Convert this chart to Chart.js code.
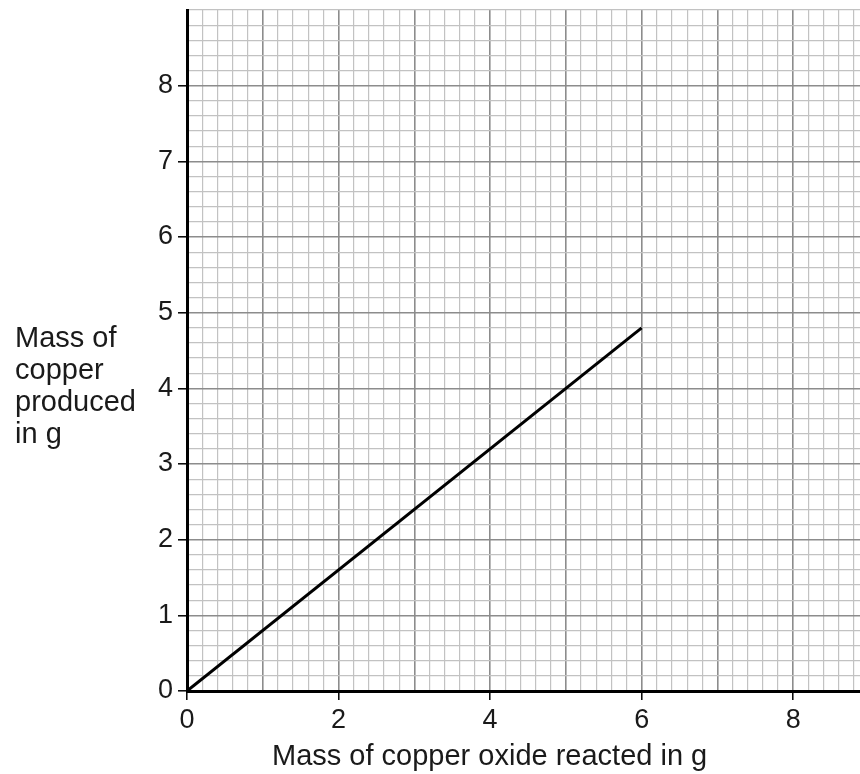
<!DOCTYPE html>
<html>
<head>
<meta charset="utf-8">
<script src="https://cdn.jsdelivr.net/npm/chart.js@4.4.1/dist/chart.umd.min.js"></script>
<style>
  html, body { margin: 0; padding: 0; background: #fff; overflow: hidden; }
  #wrap { position: relative; width: 869px; height: 774px; }
</style>
</head>
<body>
<div id="wrap"><canvas id="chart"></canvas></div>
<script>
// Data
const xValues = [0, 6];
const yValues = [0, 4.8];
const xTickLabels = [0, 2, 4, 6, 8];
const yTickLabels = [0, 1, 2, 3, 4, 5, 6, 7, 8];
const xTitle = 'Mass of copper oxide reacted in g';
const yTitleLines = ['Mass of', 'copper', 'produced', 'in g'];

const FONT = "'Liberation Sans', Arial, sans-serif";

function near(v, list) {
    return list.some(t => Math.abs(v - t) < 1e-6);
}
function isMajor(v) {
    return Math.abs(v - Math.round(v)) < 1e-6;
}

// Axis titles drawn as text at fixed spots
const titles = {
    id: 'titles',
    afterDraw(chart) {
        const ctx = chart.ctx;
        ctx.save();
        ctx.fillStyle = '#1a1a1a';
        ctx.font = '29px ' + FONT;
        ctx.textAlign = 'left';
        ctx.textBaseline = 'alphabetic';
        yTitleLines.forEach((line, i) => ctx.fillText(line, 15, 347 + i * 32));
        ctx.fillText(xTitle, 272, 765);
        ctx.restore();
    }
};

new Chart(document.getElementById('chart'), {
    type: 'line',
    data: {
        datasets: [{
            data: xValues.map((x, i) => ({ x: x, y: yValues[i] })),
            borderColor: '#000',
            borderWidth: 3,
            pointRadius: 0,
            tension: 0
        }]
    },
    options: {
        responsive: true,
        maintainAspectRatio: false,
        animation: false,
        layout: { padding: { top: 10, right: 0, left: 0, bottom: 0 } },
        plugins: { legend: { display: false }, tooltip: { enabled: false } },
        scales: {
            x: {
                type: 'linear',
                min: 0,
                max: 9,
                afterFit(s) { s.height = 83; s.paddingRight = 0; },
                border: { color: '#000', width: 3 },
                grid: {
                    color: c => isMajor(c.tick.value) ? '#8c8c8c' : '#c2c2c2',
                    lineWidth: c => isMajor(c.tick.value) ? 1.6 : 1.2,
                    tickColor: c => near(c.tick.value, xTickLabels) ? '#000' : 'rgba(0,0,0,0)',
                    tickLength: 9,
                    tickWidth: 1.5
                },
                ticks: {
                    stepSize: 0.2,
                    autoSkip: false,
                    maxRotation: 0,
                    padding: 4,
                    color: '#1a1a1a',
                    font: { family: FONT, size: 27 },
                    callback: v => near(v, xTickLabels) ? String(Math.round(v)) : ''
                }
            },
            y: {
                type: 'linear',
                min: 0,
                max: 9,
                afterFit(s) { s.width = 187; s.paddingTop = 0; },
                border: { color: '#000', width: 3 },
                grid: {
                    color: c => isMajor(c.tick.value) && c.tick.value < 9 ? '#8c8c8c' : '#c2c2c2',
                    lineWidth: c => isMajor(c.tick.value) && c.tick.value < 9 ? 1.6 : 1.2,
                    tickColor: c => near(c.tick.value, yTickLabels) ? '#000' : 'rgba(0,0,0,0)',
                    tickLength: 9,
                    tickWidth: 1.5
                },
                ticks: {
                    stepSize: 0.2,
                    autoSkip: false,
                    padding: 5,
                    color: '#1a1a1a',
                    font: { family: FONT, size: 27 },
                    callback: v => near(v, yTickLabels) ? String(Math.round(v)) : ''
                }
            }
        }
    },
    plugins: [titles]
});
</script>
</body>
</html>
